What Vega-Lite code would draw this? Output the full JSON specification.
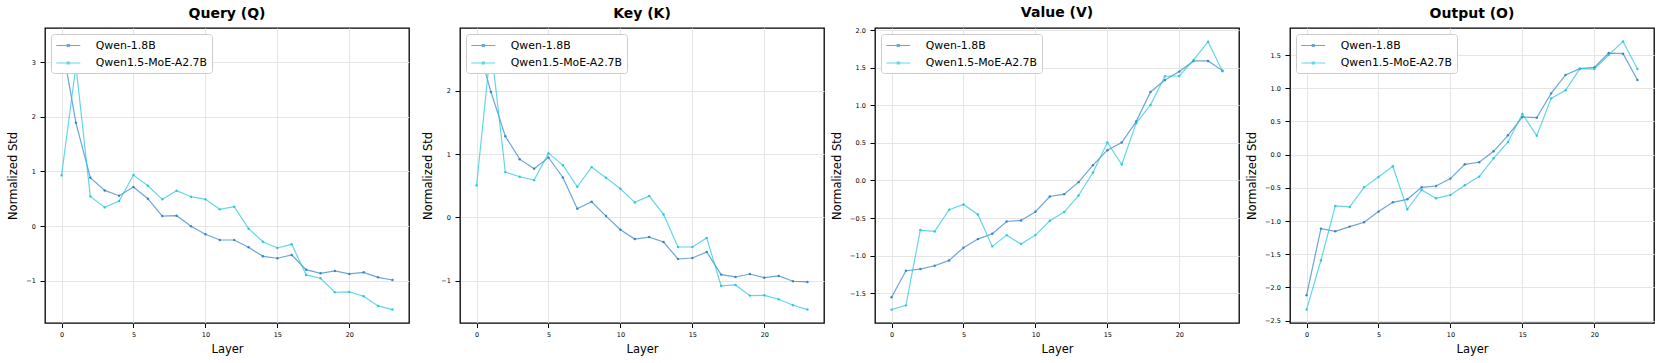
{
  "$schema": "https://vega.github.io/schema/vega-lite/v6.json",
  "background": "white",
  "padding": {"left": 6, "top": 5, "right": 8, "bottom": 3},
  "bounds": "flush",
  "spacing": 51,
  "resolve": {"scale": {"color": "independent"}, "legend": {"color": "independent"}},
  "datasets": {
    "std": [
      {"proj":"Q","model":"Qwen-1.8B","layer":0,"value":3.38},{"proj":"Q","model":"Qwen-1.8B","layer":1,"value":1.89},{"proj":"Q","model":"Qwen-1.8B","layer":2,"value":0.884},{"proj":"Q","model":"Qwen-1.8B","layer":3,"value":0.652},{"proj":"Q","model":"Qwen-1.8B","layer":4,"value":0.555},{"proj":"Q","model":"Qwen-1.8B","layer":5,"value":0.713},{"proj":"Q","model":"Qwen-1.8B","layer":6,"value":0.5},{"proj":"Q","model":"Qwen-1.8B","layer":7,"value":0.183},{"proj":"Q","model":"Qwen-1.8B","layer":8,"value":0.189},{"proj":"Q","model":"Qwen-1.8B","layer":9,"value":-0.006},{"proj":"Q","model":"Qwen-1.8B","layer":10,"value":-0.152},{"proj":"Q","model":"Qwen-1.8B","layer":11,"value":-0.256},{"proj":"Q","model":"Qwen-1.8B","layer":12,"value":-0.256},{"proj":"Q","model":"Qwen-1.8B","layer":13,"value":-0.39},{"proj":"Q","model":"Qwen-1.8B","layer":14,"value":-0.555},{"proj":"Q","model":"Qwen-1.8B","layer":15,"value":-0.59},{"proj":"Q","model":"Qwen-1.8B","layer":16,"value":-0.53},{"proj":"Q","model":"Qwen-1.8B","layer":17,"value":-0.8},{"proj":"Q","model":"Qwen-1.8B","layer":18,"value":-0.866},{"proj":"Q","model":"Qwen-1.8B","layer":19,"value":-0.823},{"proj":"Q","model":"Qwen-1.8B","layer":20,"value":-0.878},{"proj":"Q","model":"Qwen-1.8B","layer":21,"value":-0.848},{"proj":"Q","model":"Qwen-1.8B","layer":22,"value":-0.94},{"proj":"Q","model":"Qwen-1.8B","layer":23,"value":-0.988},
      {"proj":"Q","model":"Qwen1.5-MoE-A2.7B","layer":0,"value":0.927},{"proj":"Q","model":"Qwen1.5-MoE-A2.7B","layer":1,"value":2.93},{"proj":"Q","model":"Qwen1.5-MoE-A2.7B","layer":2,"value":0.543},{"proj":"Q","model":"Qwen1.5-MoE-A2.7B","layer":3,"value":0.341},{"proj":"Q","model":"Qwen1.5-MoE-A2.7B","layer":4,"value":0.457},{"proj":"Q","model":"Qwen1.5-MoE-A2.7B","layer":5,"value":0.933},{"proj":"Q","model":"Qwen1.5-MoE-A2.7B","layer":6,"value":0.738},{"proj":"Q","model":"Qwen1.5-MoE-A2.7B","layer":7,"value":0.488},{"proj":"Q","model":"Qwen1.5-MoE-A2.7B","layer":8,"value":0.646},{"proj":"Q","model":"Qwen1.5-MoE-A2.7B","layer":9,"value":0.537},{"proj":"Q","model":"Qwen1.5-MoE-A2.7B","layer":10,"value":0.488},{"proj":"Q","model":"Qwen1.5-MoE-A2.7B","layer":11,"value":0.305},{"proj":"Q","model":"Qwen1.5-MoE-A2.7B","layer":12,"value":0.354},{"proj":"Q","model":"Qwen1.5-MoE-A2.7B","layer":13,"value":-0.049},{"proj":"Q","model":"Qwen1.5-MoE-A2.7B","layer":14,"value":-0.287},{"proj":"Q","model":"Qwen1.5-MoE-A2.7B","layer":15,"value":-0.402},{"proj":"Q","model":"Qwen1.5-MoE-A2.7B","layer":16,"value":-0.335},{"proj":"Q","model":"Qwen1.5-MoE-A2.7B","layer":17,"value":-0.896},{"proj":"Q","model":"Qwen1.5-MoE-A2.7B","layer":18,"value":-0.957},{"proj":"Q","model":"Qwen1.5-MoE-A2.7B","layer":19,"value":-1.213},{"proj":"Q","model":"Qwen1.5-MoE-A2.7B","layer":20,"value":-1.207},{"proj":"Q","model":"Qwen1.5-MoE-A2.7B","layer":21,"value":-1.287},{"proj":"Q","model":"Qwen1.5-MoE-A2.7B","layer":22,"value":-1.463},{"proj":"Q","model":"Qwen1.5-MoE-A2.7B","layer":23,"value":-1.53},
      {"proj":"K","model":"Qwen-1.8B","layer":0,"value":2.79},{"proj":"K","model":"Qwen-1.8B","layer":1,"value":1.984},{"proj":"K","model":"Qwen-1.8B","layer":2,"value":1.284},{"proj":"K","model":"Qwen-1.8B","layer":3,"value":0.921},{"proj":"K","model":"Qwen-1.8B","layer":4,"value":0.768},{"proj":"K","model":"Qwen-1.8B","layer":5,"value":0.947},{"proj":"K","model":"Qwen-1.8B","layer":6,"value":0.632},{"proj":"K","model":"Qwen-1.8B","layer":7,"value":0.137},{"proj":"K","model":"Qwen-1.8B","layer":8,"value":0.247},{"proj":"K","model":"Qwen-1.8B","layer":9,"value":0.021},{"proj":"K","model":"Qwen-1.8B","layer":10,"value":-0.195},{"proj":"K","model":"Qwen-1.8B","layer":11,"value":-0.342},{"proj":"K","model":"Qwen-1.8B","layer":12,"value":-0.311},{"proj":"K","model":"Qwen-1.8B","layer":13,"value":-0.389},{"proj":"K","model":"Qwen-1.8B","layer":14,"value":-0.658},{"proj":"K","model":"Qwen-1.8B","layer":15,"value":-0.642},{"proj":"K","model":"Qwen-1.8B","layer":16,"value":-0.547},{"proj":"K","model":"Qwen-1.8B","layer":17,"value":-0.905},{"proj":"K","model":"Qwen-1.8B","layer":18,"value":-0.942},{"proj":"K","model":"Qwen-1.8B","layer":19,"value":-0.895},{"proj":"K","model":"Qwen-1.8B","layer":20,"value":-0.953},{"proj":"K","model":"Qwen-1.8B","layer":21,"value":-0.926},{"proj":"K","model":"Qwen-1.8B","layer":22,"value":-1.01},{"proj":"K","model":"Qwen-1.8B","layer":23,"value":-1.021},
      {"proj":"K","model":"Qwen1.5-MoE-A2.7B","layer":0,"value":0.505},{"proj":"K","model":"Qwen1.5-MoE-A2.7B","layer":1,"value":2.72},{"proj":"K","model":"Qwen1.5-MoE-A2.7B","layer":2,"value":0.716},{"proj":"K","model":"Qwen1.5-MoE-A2.7B","layer":3,"value":0.642},{"proj":"K","model":"Qwen1.5-MoE-A2.7B","layer":4,"value":0.589},{"proj":"K","model":"Qwen1.5-MoE-A2.7B","layer":5,"value":1.016},{"proj":"K","model":"Qwen1.5-MoE-A2.7B","layer":6,"value":0.826},{"proj":"K","model":"Qwen1.5-MoE-A2.7B","layer":7,"value":0.484},{"proj":"K","model":"Qwen1.5-MoE-A2.7B","layer":8,"value":0.795},{"proj":"K","model":"Qwen1.5-MoE-A2.7B","layer":9,"value":0.626},{"proj":"K","model":"Qwen1.5-MoE-A2.7B","layer":10,"value":0.453},{"proj":"K","model":"Qwen1.5-MoE-A2.7B","layer":11,"value":0.237},{"proj":"K","model":"Qwen1.5-MoE-A2.7B","layer":12,"value":0.337},{"proj":"K","model":"Qwen1.5-MoE-A2.7B","layer":13,"value":0.047},{"proj":"K","model":"Qwen1.5-MoE-A2.7B","layer":14,"value":-0.468},{"proj":"K","model":"Qwen1.5-MoE-A2.7B","layer":15,"value":-0.468},{"proj":"K","model":"Qwen1.5-MoE-A2.7B","layer":16,"value":-0.326},{"proj":"K","model":"Qwen1.5-MoE-A2.7B","layer":17,"value":-1.084},{"proj":"K","model":"Qwen1.5-MoE-A2.7B","layer":18,"value":-1.068},{"proj":"K","model":"Qwen1.5-MoE-A2.7B","layer":19,"value":-1.237},{"proj":"K","model":"Qwen1.5-MoE-A2.7B","layer":20,"value":-1.232},{"proj":"K","model":"Qwen1.5-MoE-A2.7B","layer":21,"value":-1.295},{"proj":"K","model":"Qwen1.5-MoE-A2.7B","layer":22,"value":-1.389},{"proj":"K","model":"Qwen1.5-MoE-A2.7B","layer":23,"value":-1.458},
      {"proj":"V","model":"Qwen-1.8B","layer":0,"value":-1.557},{"proj":"V","model":"Qwen-1.8B","layer":1,"value":-1.202},{"proj":"V","model":"Qwen-1.8B","layer":2,"value":-1.18},{"proj":"V","model":"Qwen-1.8B","layer":3,"value":-1.136},{"proj":"V","model":"Qwen-1.8B","layer":4,"value":-1.065},{"proj":"V","model":"Qwen-1.8B","layer":5,"value":-0.896},{"proj":"V","model":"Qwen-1.8B","layer":6,"value":-0.781},{"proj":"V","model":"Qwen-1.8B","layer":7,"value":-0.71},{"proj":"V","model":"Qwen-1.8B","layer":8,"value":-0.546},{"proj":"V","model":"Qwen-1.8B","layer":9,"value":-0.532},{"proj":"V","model":"Qwen-1.8B","layer":10,"value":-0.417},{"proj":"V","model":"Qwen-1.8B","layer":11,"value":-0.213},{"proj":"V","model":"Qwen-1.8B","layer":12,"value":-0.182},{"proj":"V","model":"Qwen-1.8B","layer":13,"value":-0.022},{"proj":"V","model":"Qwen-1.8B","layer":14,"value":0.204},{"proj":"V","model":"Qwen-1.8B","layer":15,"value":0.404},{"proj":"V","model":"Qwen-1.8B","layer":16,"value":0.506},{"proj":"V","model":"Qwen-1.8B","layer":17,"value":0.785},{"proj":"V","model":"Qwen-1.8B","layer":18,"value":1.18},{"proj":"V","model":"Qwen-1.8B","layer":19,"value":1.34},{"proj":"V","model":"Qwen-1.8B","layer":20,"value":1.451},{"proj":"V","model":"Qwen-1.8B","layer":21,"value":1.593},{"proj":"V","model":"Qwen-1.8B","layer":22,"value":1.593},{"proj":"V","model":"Qwen-1.8B","layer":23,"value":1.464},
      {"proj":"V","model":"Qwen1.5-MoE-A2.7B","layer":0,"value":-1.721},{"proj":"V","model":"Qwen1.5-MoE-A2.7B","layer":1,"value":-1.664},{"proj":"V","model":"Qwen1.5-MoE-A2.7B","layer":2,"value":-0.661},{"proj":"V","model":"Qwen1.5-MoE-A2.7B","layer":3,"value":-0.679},{"proj":"V","model":"Qwen1.5-MoE-A2.7B","layer":4,"value":-0.39},{"proj":"V","model":"Qwen1.5-MoE-A2.7B","layer":5,"value":-0.319},{"proj":"V","model":"Qwen1.5-MoE-A2.7B","layer":6,"value":-0.453},{"proj":"V","model":"Qwen1.5-MoE-A2.7B","layer":7,"value":-0.878},{"proj":"V","model":"Qwen1.5-MoE-A2.7B","layer":8,"value":-0.728},{"proj":"V","model":"Qwen1.5-MoE-A2.7B","layer":9,"value":-0.847},{"proj":"V","model":"Qwen1.5-MoE-A2.7B","layer":10,"value":-0.728},{"proj":"V","model":"Qwen1.5-MoE-A2.7B","layer":11,"value":-0.537},{"proj":"V","model":"Qwen1.5-MoE-A2.7B","layer":12,"value":-0.421},{"proj":"V","model":"Qwen1.5-MoE-A2.7B","layer":13,"value":-0.2},{"proj":"V","model":"Qwen1.5-MoE-A2.7B","layer":14,"value":0.106},{"proj":"V","model":"Qwen1.5-MoE-A2.7B","layer":15,"value":0.506},{"proj":"V","model":"Qwen1.5-MoE-A2.7B","layer":16,"value":0.213},{"proj":"V","model":"Qwen1.5-MoE-A2.7B","layer":17,"value":0.763},{"proj":"V","model":"Qwen1.5-MoE-A2.7B","layer":18,"value":1.007},{"proj":"V","model":"Qwen1.5-MoE-A2.7B","layer":19,"value":1.389},{"proj":"V","model":"Qwen1.5-MoE-A2.7B","layer":20,"value":1.393},{"proj":"V","model":"Qwen1.5-MoE-A2.7B","layer":21,"value":1.606},{"proj":"V","model":"Qwen1.5-MoE-A2.7B","layer":22,"value":1.85},{"proj":"V","model":"Qwen1.5-MoE-A2.7B","layer":23,"value":1.455},
      {"proj":"O","model":"Qwen-1.8B","layer":0,"value":-2.118},{"proj":"O","model":"Qwen-1.8B","layer":1,"value":-1.114},{"proj":"O","model":"Qwen-1.8B","layer":2,"value":-1.154},{"proj":"O","model":"Qwen-1.8B","layer":3,"value":-1.084},{"proj":"O","model":"Qwen-1.8B","layer":4,"value":-1.019},{"proj":"O","model":"Qwen-1.8B","layer":5,"value":-0.858},{"proj":"O","model":"Qwen-1.8B","layer":6,"value":-0.718},{"proj":"O","model":"Qwen-1.8B","layer":7,"value":-0.673},{"proj":"O","model":"Qwen-1.8B","layer":8,"value":-0.492},{"proj":"O","model":"Qwen-1.8B","layer":9,"value":-0.472},{"proj":"O","model":"Qwen-1.8B","layer":10,"value":-0.361},{"proj":"O","model":"Qwen-1.8B","layer":11,"value":-0.146},{"proj":"O","model":"Qwen-1.8B","layer":12,"value":-0.115},{"proj":"O","model":"Qwen-1.8B","layer":13,"value":0.05},{"proj":"O","model":"Qwen-1.8B","layer":14,"value":0.291},{"proj":"O","model":"Qwen-1.8B","layer":15,"value":0.567},{"proj":"O","model":"Qwen-1.8B","layer":16,"value":0.557},{"proj":"O","model":"Qwen-1.8B","layer":17,"value":0.923},{"proj":"O","model":"Qwen-1.8B","layer":18,"value":1.2},{"proj":"O","model":"Qwen-1.8B","layer":19,"value":1.295},{"proj":"O","model":"Qwen-1.8B","layer":20,"value":1.315},{"proj":"O","model":"Qwen-1.8B","layer":21,"value":1.531},{"proj":"O","model":"Qwen-1.8B","layer":22,"value":1.521},{"proj":"O","model":"Qwen-1.8B","layer":23,"value":1.124},
      {"proj":"O","model":"Qwen1.5-MoE-A2.7B","layer":0,"value":-2.334},{"proj":"O","model":"Qwen1.5-MoE-A2.7B","layer":1,"value":-1.591},{"proj":"O","model":"Qwen1.5-MoE-A2.7B","layer":2,"value":-0.773},{"proj":"O","model":"Qwen1.5-MoE-A2.7B","layer":3,"value":-0.788},{"proj":"O","model":"Qwen1.5-MoE-A2.7B","layer":4,"value":-0.492},{"proj":"O","model":"Qwen1.5-MoE-A2.7B","layer":5,"value":-0.336},{"proj":"O","model":"Qwen1.5-MoE-A2.7B","layer":6,"value":-0.176},{"proj":"O","model":"Qwen1.5-MoE-A2.7B","layer":7,"value":-0.823},{"proj":"O","model":"Qwen1.5-MoE-A2.7B","layer":8,"value":-0.532},{"proj":"O","model":"Qwen1.5-MoE-A2.7B","layer":9,"value":-0.657},{"proj":"O","model":"Qwen1.5-MoE-A2.7B","layer":10,"value":-0.607},{"proj":"O","model":"Qwen1.5-MoE-A2.7B","layer":11,"value":-0.462},{"proj":"O","model":"Qwen1.5-MoE-A2.7B","layer":12,"value":-0.331},{"proj":"O","model":"Qwen1.5-MoE-A2.7B","layer":13,"value":-0.055},{"proj":"O","model":"Qwen1.5-MoE-A2.7B","layer":14,"value":0.191},{"proj":"O","model":"Qwen1.5-MoE-A2.7B","layer":15,"value":0.612},{"proj":"O","model":"Qwen1.5-MoE-A2.7B","layer":16,"value":0.286},{"proj":"O","model":"Qwen1.5-MoE-A2.7B","layer":17,"value":0.848},{"proj":"O","model":"Qwen1.5-MoE-A2.7B","layer":18,"value":0.969},{"proj":"O","model":"Qwen1.5-MoE-A2.7B","layer":19,"value":1.295},{"proj":"O","model":"Qwen1.5-MoE-A2.7B","layer":20,"value":1.29},{"proj":"O","model":"Qwen1.5-MoE-A2.7B","layer":21,"value":1.501},{"proj":"O","model":"Qwen1.5-MoE-A2.7B","layer":22,"value":1.706},{"proj":"O","model":"Qwen1.5-MoE-A2.7B","layer":23,"value":1.29}
    ]
  },
  "hconcat": [
    {
      "title": "Query (Q)",
      "width": 364, "height": 295,
      "data": {"name": "std"},
      "transform": [{"filter": "datum.proj === 'Q'"}],
      "mark": {"type": "line", "strokeWidth": 1.2, "opacity": 0.7, "point": {"filled": true, "size": 6, "opacity": 0.9}},
      "encoding": {
        "x": {"field": "layer", "type": "quantitative", "scale": {"domain": [-1.15, 24.15], "nice": false, "zero": false}, "axis": {"values": [0, 5, 10, 15, 20], "title": "Layer"}},
        "y": {"field": "value", "type": "quantitative", "scale": {"domain": [-1.776, 3.626], "nice": false, "zero": false}, "axis": {"values": [-1, 0, 1, 2, 3], "format": "d", "title": "Normalized Std"}},
        "color": {"field": "model", "type": "nominal", "scale": {"domain": ["Qwen-1.8B", "Qwen1.5-MoE-A2.7B"], "range": ["#2f7fc6", "#22c5dc"]}, "legend": {"title": null}}
      }
    },
    {
      "title": "Key (K)",
      "width": 364, "height": 295,
      "data": {"name": "std"},
      "transform": [{"filter": "datum.proj === 'K'"}],
      "mark": {"type": "line", "strokeWidth": 1.2, "opacity": 0.7, "point": {"filled": true, "size": 6, "opacity": 0.9}},
      "encoding": {
        "x": {"field": "layer", "type": "quantitative", "scale": {"domain": [-1.15, 24.15], "nice": false, "zero": false}, "axis": {"values": [0, 5, 10, 15, 20], "title": "Layer"}},
        "y": {"field": "value", "type": "quantitative", "scale": {"domain": [-1.67, 2.995], "nice": false, "zero": false}, "axis": {"values": [-1, 0, 1, 2], "format": "d", "title": "Normalized Std"}},
        "color": {"field": "model", "type": "nominal", "scale": {"domain": ["Qwen-1.8B", "Qwen1.5-MoE-A2.7B"], "range": ["#2f7fc6", "#22c5dc"]}, "legend": {"title": null}}
      }
    },
    {
      "title": "Value (V)",
      "width": 364, "height": 295,
      "data": {"name": "std"},
      "transform": [{"filter": "datum.proj === 'V'"}],
      "mark": {"type": "line", "strokeWidth": 1.2, "opacity": 0.7, "point": {"filled": true, "size": 6, "opacity": 0.9}},
      "encoding": {
        "x": {"field": "layer", "type": "quantitative", "scale": {"domain": [-1.15, 24.15], "nice": false, "zero": false}, "axis": {"values": [0, 5, 10, 15, 20], "title": "Layer"}},
        "y": {"field": "value", "type": "quantitative", "scale": {"domain": [-1.899, 2.032], "nice": false, "zero": false}, "axis": {"values": [-1.5, -1, -0.5, 0, 0.5, 1, 1.5, 2], "format": ".1f", "title": "Normalized Std"}},
        "color": {"field": "model", "type": "nominal", "scale": {"domain": ["Qwen-1.8B", "Qwen1.5-MoE-A2.7B"], "range": ["#2f7fc6", "#22c5dc"]}, "legend": {"title": null}}
      }
    },
    {
      "title": "Output (O)",
      "width": 364, "height": 295,
      "data": {"name": "std"},
      "transform": [{"filter": "datum.proj === 'O'"}],
      "mark": {"type": "line", "strokeWidth": 1.2, "opacity": 0.7, "point": {"filled": true, "size": 6, "opacity": 0.9}},
      "encoding": {
        "x": {"field": "layer", "type": "quantitative", "scale": {"domain": [-1.15, 24.15], "nice": false, "zero": false}, "axis": {"values": [0, 5, 10, 15, 20], "title": "Layer"}},
        "y": {"field": "value", "type": "quantitative", "scale": {"domain": [-2.536, 1.908], "nice": false, "zero": false}, "axis": {"values": [-2.5, -2, -1.5, -1, -0.5, 0, 0.5, 1, 1.5], "format": ".1f", "title": "Normalized Std"}},
        "color": {"field": "model", "type": "nominal", "scale": {"domain": ["Qwen-1.8B", "Qwen1.5-MoE-A2.7B"], "range": ["#2f7fc6", "#22c5dc"]}, "legend": {"title": null}}
      }
    }
  ],
  "config": {
    "font": "DejaVu Sans",
    "view": {"stroke": "black", "strokeWidth": 1.3},
    "axis": {"labelFontSize": 6.5, "labelColor": "black", "labelFont": "DejaVu Sans", "titleFont": "DejaVu Sans", "titleFontSize": 11.5, "titleFontWeight": "normal", "titleColor": "black", "gridColor": "#e5e5e5", "gridWidth": 1, "domain": false, "tickColor": "black", "tickWidth": 1},
    "axisX": {"tickSize": 4.5, "labelPadding": 4, "titlePadding": 5.5},
    "axisY": {"tickSize": 5, "labelPadding": 4.6, "titlePadding": 7.3},
    "title": {"fontSize": 14, "fontWeight": "bold", "font": "DejaVu Sans", "offset": 7, "color": "black"},
    "legend": {"orient": "top-left", "offset": 6, "fillColor": "white", "strokeColor": "#cccccc", "cornerRadius": 3, "padding": 4.5, "labelFontSize": 10.9, "labelFont": "DejaVu Sans", "labelColor": "black", "labelOffset": 20.5, "rowPadding": 5.5, "symbolType": "M-2,0H2M-0.17,-0.17H0.17V0.17H-0.17Z", "symbolSize": 144, "symbolOffset": 5.8, "symbolStrokeWidth": 1.2, "symbolOpacity": 0.7, "labelLimit": 300}
  }
}
